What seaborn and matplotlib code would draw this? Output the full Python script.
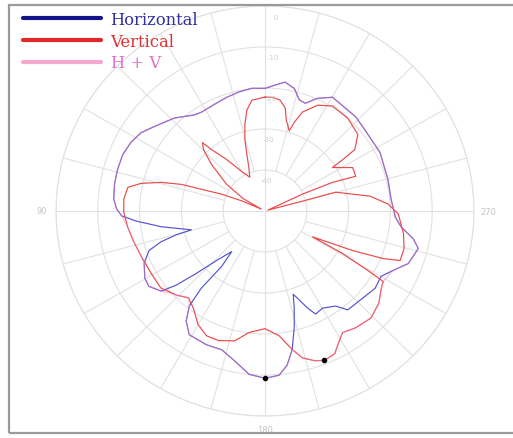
import numpy as np
import pandas as pd
import seaborn as sns
import matplotlib
matplotlib.use("Agg")
import matplotlib.pyplot as plt
from matplotlib.lines import Line2D
from matplotlib.patches import Rectangle

# Radiation pattern (relative level in dB); angles in degrees, 0 at top, counter-clockwise
h_angles = [0, 6, 12.2, 18.3, 24.8, 32.2, 35.8, 43.8, 52.3, 57.3, 62.6, 68, 74, 79.7, 85.4,
            89.2, 92, 94.5, 98.8, 102.2, 104.6, 105.3, 106.8, 109.2, 113.8, 119.7, 123.5,
            128.2, 130.4, 132.8, 136.2, 141.2, 142.5, 141, 142, 144.9, 149, 156.7, 163, 169.6,
            174.5, 180, 184.8, 188, 190.9, 193.8, 196.5, 198.4, 200, 203.2, 205.7, 210.2,
            216.1, 219.4, 227.8, 234.4, 240.1, 244.7, 249.5, 256, 259.2, 263.2, 267.3, 275.5,
            284.7, 292.7, 297.4, 307, 316.5, 329.8, 335.5, 339.8, 343.1, 346.8, 351.3, 356, 360]
h_values = [-20.1, -19.9, -20.3, -20.8, -21.3, -21.5, -21.1, -18.6, -16.4, -14.7, -13.8, -13.3,
            -13.3, -13.4, -13.7, -14.5, -15.7, -19.0, -24.9, -29.5, -31.8, -28.0, -24.0, -20.6,
            -18.4, -16.9, -16.7, -18.4, -22.1, -27.6, -33.3, -37.3, -32.9, -25.8, -20.6, -17.2,
            -14.8, -14.5, -14.6, -12.4, -10.0, -9.2, -9.8, -12.0, -15.6, -20.7, -25.4, -28.6,
            -27.4, -24.3, -22.1, -22.6, -21.3, -18.8, -18.4, -17.6, -18.0, -16.1, -13.4, -12.2,
            -13.9, -17.2, -18.8, -19.7, -19.6, -19.4, -19.0, -19.1, -18.4, -17.9, -19.8, -22.0,
            -21.7, -19.3, -18.2, -19.3, -20.1]

v_angles = [0, 6.6, 10, 12.9, 15.5, 17.5, 20, 23.8, 29.9, 36.2, 40.5, 41.9, 44.5, 48.4, 54.6,
            60, 62, 66, 68.4, 72, 74.3, 77.2, 80, 85, 90.4, 96.7, 103.4, 110.5, 119, 127, 134,
            139.2, 144, 150, 155.3, 160.6, 167.1, 172.6, 180, 186.3, 190.9, 194, 198, 201.3,
            205.6, 208.8, 212, 217.3, 224.2, 230.5, 235.9, 238.7, 239.5, 240.8, 241, 245.3,
            247.7, 249.5, 254.6, 260.5, 268.7, 273.3, 278.2, 285.2, 285, 287, 294.7, 293.4,
            291.3, 296.8, 303.3, 304, 304.9, 310, 318.9, 327.7, 334, 339.7, 342, 343.5, 347.1,
            349.1, 352.4, 356.5, 360]
v_values = [-22.2, -22.8, -25.0, -28.4, -32.0, -35.6, -38.7, -41.0, -38.9, -34.4, -30.3, -27.6,
            -29.0, -32.9, -38.7, -44.0, -49.0, -44.0, -38.9, -29.0, -24.2, -19.6, -16.7, -16.1,
            -16.2, -16.9, -17.7, -18.4, -18.8, -18.8, -20.5, -22.0, -20.8, -18.0, -16.5, -16.5,
            -17.5, -20.1, -21.3, -19.4, -15.6, -13.1, -11.6, -10.9, -11.4, -13.4, -15.0, -14.2,
            -13.6, -14.7, -16.4, -16.9, -21.5, -28.7, -37.0, -26.9, -19.4, -15.5, -15.5, -16.4,
            -18.1, -20.5, -24.6, -32.5, -40.8, -49.3, -40.2, -32.4, -26.7, -26.5, -30.7, -27.5,
            -23.8, -21.0, -19.9, -19.7, -21.3, -24.3, -27.2, -29.6, -27.2, -24.4, -22.7, -22.2,
            -22.2]

# Combined H + V envelope
hv_angles = [0, 6, 12.2, 18.3, 24.8, 32.2, 35.8, 43.8, 52.3, 57.3, 62.6, 68, 74, 79.7, 85.4,
             89.2, 92, 96.7, 103.4, 110.5, 113.8, 119.7, 123.5, 128.2, 134, 139.2, 142, 144.9,
             149, 156.7, 163, 169.6, 174.5, 180, 184.8, 188, 190.9, 194, 198, 201.3, 205.6,
             208.8, 212, 217.3, 224.2, 230.5, 235.9, 238.7, 244.7, 249.5, 256, 259.2, 263.2,
             267.3, 275.5, 284.7, 292.7, 297.4, 307, 316.5, 329.8, 335.5, 339.8, 343.1, 346.8,
             351.3, 356, 360]
hv_values = [-20.1, -19.9, -20.3, -20.8, -21.3, -21.5, -21.1, -18.6, -16.4, -14.7, -13.8, -13.3,
             -13.3, -13.4, -13.7, -14.5, -15.7, -16.9, -17.7, -18.4, -18.4, -16.9, -16.7, -18.4,
             -20.5, -22.0, -20.6, -17.2, -14.8, -14.5, -14.6, -12.4, -10.0, -9.2, -9.8, -12.0,
             -15.6, -13.1, -11.6, -10.9, -11.4, -13.4, -15.0, -14.2, -13.6, -14.7, -16.4, -16.9,
             -16.1, -13.4, -12.2, -13.9, -17.2, -18.8, -19.7, -19.6, -19.4, -19.0, -19.1, -18.4,
             -17.9, -19.8, -22.0, -21.7, -19.3, -18.2, -19.3, -20.1]

# Maximum markers
peak_angles = [180, 201.3]
peak_values = [-9.2, -10.9]

ring_levels = [-40, -30, -20, -10, 0]
ring_labels = ["-40", "-30", "-20", "-10", "0"]
cardinal_labels = {90: "90", 180: "180", 270: "270"}

series_names = ["Horizontal", "Vertical", "H + V"]
line_colors = ["#4a4ad0", "#e84040", "#f080b8"]
legend_line_colors = ["#14148a", "#e02828", "#f6a8cc"]
legend_text_colors = ["#3030a0", "#e03030", "#e070c8"]

sns.set_theme(style="white")
plt.rcParams["font.family"] = ["DejaVu Sans"]

fig = plt.figure(figsize=(5.13, 4.39), dpi=100)
fig.patch.set_facecolor("white")

cx, cy, rx, ry = 265, 212, 209, 205
W, H = 513, 439
ax = fig.add_axes([(cx - rx) / W, (H - cy - ry) / H, 2 * rx / W, 2 * ry / H],
                  projection="polar")
ax.set_aspect("auto")
ax.set_theta_zero_location("N")
ax.set_theta_direction(1)
ax.set_ylim(-50, 0)
ax.set_facecolor("white")

grid_color = "#e1e1e1"
spoke_angles = np.arange(0, 360, 15)
ax.set_thetagrids(spoke_angles, [cardinal_labels.get(a, "") for a in spoke_angles],
                  color="#c4c4c4", fontsize=6)
ax.tick_params(axis="x", pad=-3)
ax.set_rgrids(ring_levels, [""] * len(ring_levels))
ax.xaxis.grid(False)
ax.yaxis.grid(True, color=grid_color, lw=0.8)
ax.spines["polar"].set_color(grid_color)
ax.spines["polar"].set_linewidth(0.8)

# Spokes start at the innermost ring; the main axes cross the centre
for a in spoke_angles:
    r0 = -50 if a % 90 == 0 else ring_levels[0]
    ax.plot([np.deg2rad(a)] * 2, [r0, 0], color=grid_color, lw=0.8, zorder=0.5)

for lvl, lab in zip(ring_levels, ring_labels):
    ax.text(np.deg2rad(-3), lvl - 2.5, lab, fontsize=5, color="#cfcfcf",
            ha="center", va="center")

frames = {
    "Horizontal": pd.DataFrame({"theta": np.deg2rad(h_angles), "level": h_values}),
    "Vertical": pd.DataFrame({"theta": np.deg2rad(v_angles), "level": v_values}),
    "H + V": pd.DataFrame({"theta": np.deg2rad(hv_angles), "level": hv_values}),
}
alphas = [0.95, 0.95, 0.5]
for name, col, a in zip(series_names, line_colors, alphas):
    sns.lineplot(data=frames[name], x="theta", y="level", ax=ax, sort=False,
                 estimator=None, color=col, lw=0.85, alpha=a, legend=False)
ax.set_xlabel("")
ax.set_ylabel("")

ax.scatter(np.deg2rad(peak_angles), peak_values, s=9, color="black", zorder=5)

# Legend in the top-left corner
handles = [Line2D([0], [0], color=c, lw=3) for c in legend_line_colors]
leg = fig.legend(handles, series_names, loc="upper left", bbox_to_anchor=(0.016, 1.006),
                 frameon=False, handlelength=4.75, handletextpad=0.6, labelspacing=0.28,
                 prop={"family": "DejaVu Serif", "size": 11.8})
for txt, c in zip(leg.get_texts(), legend_text_colors):
    txt.set_color(c)

# Outer frame
fig.add_artist(Rectangle((9 / W, 5 / H), 1.2, 1 - 11 / H, transform=fig.transFigure,
                         fill=False, edgecolor="#9a9a9a", lw=1.6))

fig.savefig("out.png", dpi=100, facecolor="white")
